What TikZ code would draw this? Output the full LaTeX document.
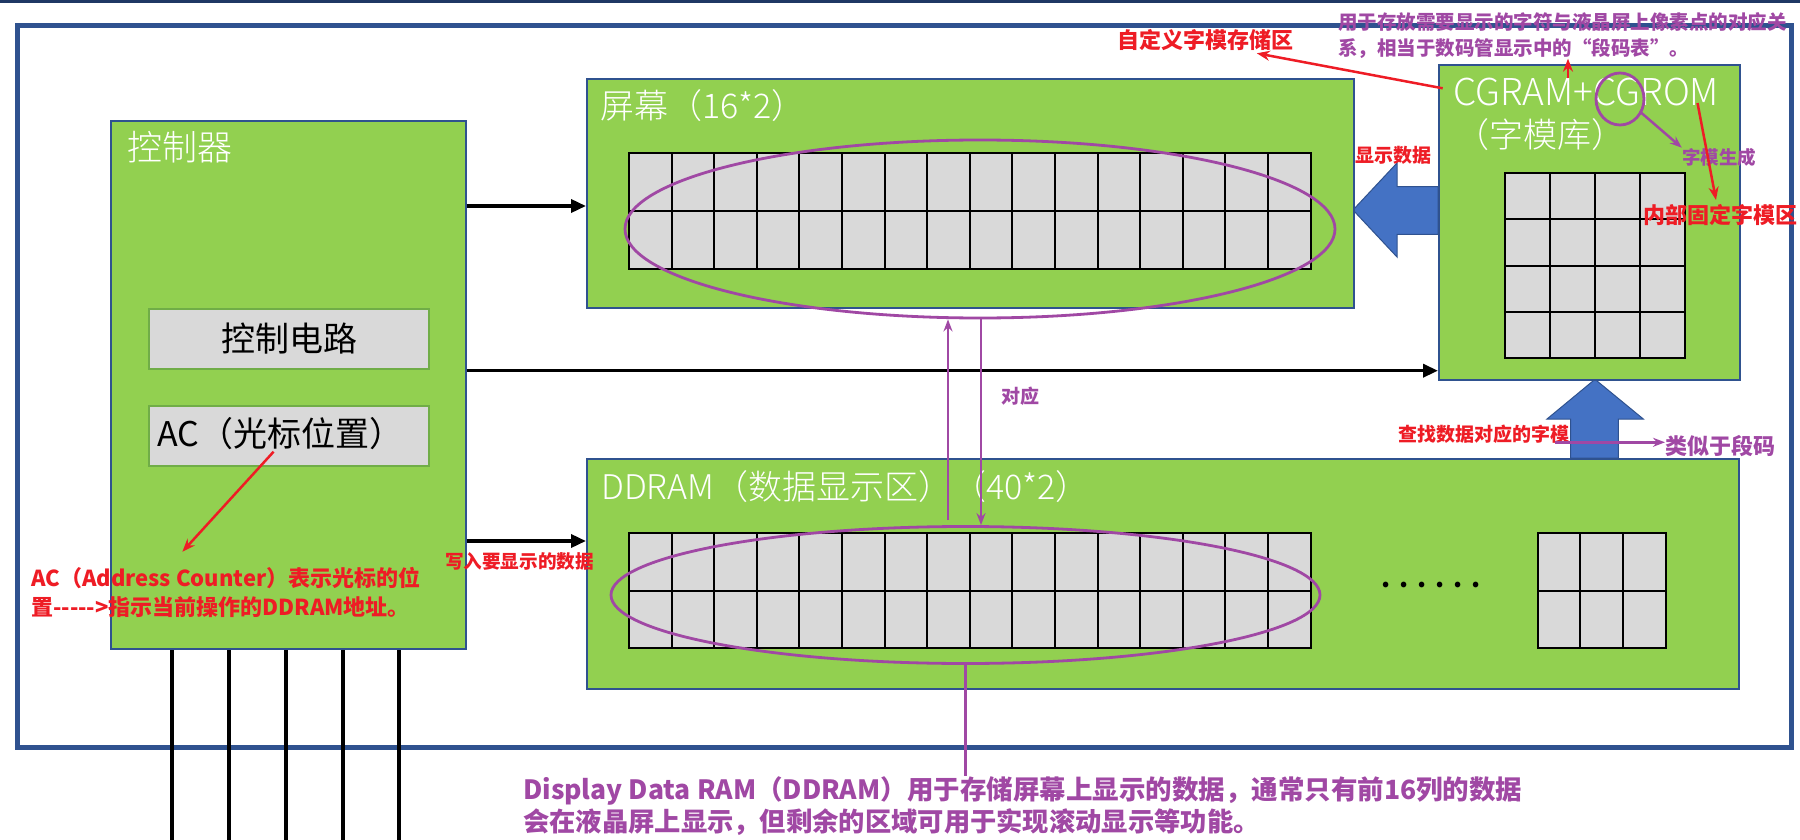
\documentclass[tikz,border=0pt]{standalone}
\usepackage{fontspec}
\newfontfamily\cjk{Noto Sans CJK SC}
\newfontfamily\cjklight{Noto Sans CJK SC Light}
\usetikzlibrary{shapes.geometric,arrows.meta}
\definecolor{frameblue}{RGB}{47,82,143}
\definecolor{boxgreen}{RGB}{146,208,80}
\definecolor{cellgray}{RGB}{217,217,217}
\definecolor{cellborder}{RGB}{112,173,71}
\definecolor{annred}{RGB}{238,28,37}
\definecolor{annpurple}{RGB}{160,72,164}
\definecolor{arrowblue}{RGB}{68,114,196}
\definecolor{topbar}{RGB}{31,56,100}
\begin{document}
\begin{tikzpicture}[x=1pt,y=-1pt,
  greenbox/.style={draw=frameblue,line width=1.6pt,fill=boxgreen,rectangle,inner sep=0pt,anchor=north west},
  graybox/.style={draw=cellborder,line width=2pt,fill=cellgray,rectangle,inner sep=0pt,anchor=north west,font=\cjk\fontsize{34}{40}\selectfont},
  whitetxt/.style={text=white,inner sep=0pt,anchor=west,font=\cjklight\fontsize{34}{40}\selectfont},
  blacktxt/.style={text=black,inner sep=0pt,anchor=west,font=\cjk\fontsize{34}{40}\selectfont},
  redtxt/.style={text=annred,inner sep=0pt,font=\cjk\bfseries\fontsize{22}{26}\selectfont},
  purpletxt/.style={text=annpurple,inner sep=0pt,font=\cjk\bfseries\fontsize{19.5}{24}\selectfont},
  gridline/.style={line width=2pt,black},
  blackarrow/.style={draw=black,line width=3.5pt,-{Triangle[length=15pt,width=13pt]}},
  redarrow/.style={draw=annred,line width=2.5pt,-{Stealth[length=13pt,width=10pt]}},
  purplearrow/.style={draw=annpurple,line width=2.5pt,-{Stealth[length=12pt,width=9pt]}},
  purpleline/.style={draw=annpurple,line width=2.5pt},
  oval/.style={draw=annpurple,line width=2.8pt,ellipse,inner sep=0pt},
  blockarrow/.style={fill=arrowblue,draw=frameblue,line width=1pt},
  busline/.style={draw=black,line width=4.7pt},
]
\useasboundingbox (0,0) rectangle (1800,840);
\fill[white] (0,0) rectangle (1800,840);
\fill[topbar] (0,0) rectangle (1800,3.5);

% outer frame
\node[draw=frameblue,line width=5pt,rectangle,inner sep=0pt,anchor=north west,
      minimum width=1774.5pt,minimum height=721.5pt] (frame) at (14.5,23.5) {};

% block arrows
\path[blockarrow] (1438,186.7) -- (1397,186.7) -- (1397,163) -- (1353,210) -- (1397,257) -- (1397,234.3) -- (1438,234.3) -- cycle;
\path[blockarrow] (1570.7,458) -- (1570.7,419) -- (1547,419) -- (1595,379.3) -- (1643.3,419) -- (1618.3,419) -- (1618.3,458) -- cycle;

% bus lines below controller
\foreach \bx in {172,229,286,343,399}
  \draw[busline] (\bx,646) -- (\bx,842);

% green boxes
\node[greenbox,minimum width=355pt,minimum height=528pt] (ctrl) at (110,120) {};
\node[greenbox,minimum width=767pt,minimum height=229pt] (scr) at (586,78) {};
\node[greenbox,minimum width=301pt,minimum height=315pt] (cg) at (1438,64) {};
\node[greenbox,minimum width=1152pt,minimum height=230pt] (dd) at (586,458) {};

% gray boxes in controller
\node[graybox,minimum width=280pt,minimum height=60pt] (circ) at (148,308) {控制电路};
\node[graybox,minimum width=280pt,minimum height=60pt] (acbox) at (148,405) {};
\node[blacktxt] (actext) at (157,434) {AC（光标位置）};

% box titles
\node[whitetxt,font=\cjklight\fontsize{35}{40}\selectfont] (ctrltitle) at (127,147) {控制器};
\node[whitetxt] (scrtitle) at (600,106) {屏幕（16*2）};
\node[whitetxt] (ddtitle) at (601,487) {DDRAM（数据显示区）（40*2）};
\node[whitetxt,font=\cjklight\fontsize{37}{40}\selectfont] (cgtxt) at (1453,92.5) {CGRAM+CGROM};
\node[whitetxt] (cglib) at (1455,135) {（字模库）};

% screen grid 16x2
\fill[cellgray] (629,153) rectangle (1310.6,269);
\foreach \i in {1,...,15} \draw[gridline] ({629+42.6*\i},153) -- ({629+42.6*\i},269);
\draw[gridline] (629,211) -- (1310.6,211);
\draw[gridline] (629,153) rectangle (1310.6,269);

% DDRAM grid 16x2
\fill[cellgray] (629,533) rectangle (1310.6,648);
\foreach \i in {1,...,15} \draw[gridline] ({629+42.6*\i},533) -- ({629+42.6*\i},648);
\draw[gridline] (629,590.5) -- (1310.6,590.5);
\draw[gridline] (629,533) rectangle (1310.6,648);

% DDRAM tail grid 3x2
\fill[cellgray] (1537.6,533) rectangle (1666,648);
\foreach \i in {1,2} \draw[gridline] ({1537.6+42.8*\i},533) -- ({1537.6+42.8*\i},648);
\draw[gridline] (1537.6,590.5) -- (1666,590.5);
\draw[gridline] (1537.6,533) rectangle (1666,648);

% CG grid 4x4
\fill[cellgray] (1505,173) rectangle (1685,358);
\foreach \i in {1,2,3} \draw[gridline] ({1505+45*\i},173) -- ({1505+45*\i},358);
\foreach \j in {1,2,3} \draw[gridline] (1505,{173+46.25*\j}) -- (1685,{173+46.25*\j});
\draw[gridline] (1505,173) rectangle (1685,358);

% dots
\node[inner sep=0pt,anchor=base west,font=\cjk\bfseries\fontsize{26}{30}\selectfont] (dots) at (1381,587)
  {.\kern9pt.\kern9pt.\kern9pt.\kern9pt.\kern9pt.};

% ellipses
\node[oval,minimum width=710pt,minimum height=178pt] (e1) at (980,229) {};
\node[oval,minimum width=709pt,minimum height=137pt] (e2) at (965.5,595) {};
\node[oval,minimum width=48pt,minimum height=52pt] (gcirc) at (1620,99) {};

% black arrows from controller
\coordinate (k1y) at (0,206);
\coordinate (k2y) at (0,370.7);
\coordinate (k3y) at (0,541);
\draw[blackarrow] (ctrl.east |- k1y) -- (scr.west |- k1y);
\draw[blackarrow] (ctrl.east |- k2y) -- (cg.west |- k2y);
\draw[blackarrow] (ctrl.east |- k3y) -- (dd.west |- k3y);

% correspondence arrows
\coordinate (upx) at (948,0);
\coordinate (dnx) at (981,0);
\draw[purplearrow] (upx |- 0,520) -- (upx |- e1.south);
\draw[purplearrow] (dnx |- e1.south) -- (dnx |- e2.north);

% labels
\node[purpletxt,font=\cjk\bfseries\fontsize{19}{24}\selectfont] (lblcorr) at (1020,396) {对应};
\node[redtxt,font=\cjk\bfseries\fontsize{19}{24}\selectfont] (lbldisp) at (1393,155) {显示数据};
\node[redtxt] (lblcustom) at (1205,40) {自定义字模存储区};
\node[purpletxt,anchor=west] (desc1) at (1338,22) {用于存放需要显示的字符与液晶屏上像素点的对应关};
\node[purpletxt,anchor=west] (desc2) at (1338,48.5) {系，相当于数码管显示中的“段码表”。};
\node[purpletxt,font=\cjk\bfseries\fontsize{18.5}{24}\selectfont] (lblgen) at (1719,157) {字模生成};
\node[redtxt] (lblfixed) at (1720,215) {内部固定字模区};
\node[redtxt,font=\cjk\bfseries\fontsize{19}{24}\selectfont] (lbllookup) at (1484,434) {查找数据对应的字模};
\node[purpletxt,anchor=west,font=\cjk\bfseries\fontsize{22}{26}\selectfont] (lblseg) at (1665,446) {类似于段码};
\node[redtxt,font=\cjk\bfseries\fontsize{18.6}{24}\selectfont] (lblwrite) at (519.5,561) {写入要显示的数据};
\node[redtxt,anchor=west] (acnote1) at (31,578) {AC（Address Counter）表示光标的位};
\node[redtxt,anchor=west] (acnote2) at (31,607) {置----->指示当前操作的DDRAM地址。};
\node[purpletxt,anchor=west,font=\cjk\bfseries\fontsize{26.5}{30}\selectfont] (note1) at (523,791) {Display Data RAM（DDRAM）用于存储屏幕上显示的数据，通常只有前16列的数据};
\node[purpletxt,anchor=west,font=\cjk\bfseries\fontsize{26.3}{30}\selectfont] (note2) at (523,822) {会在液晶屏上显示，但剩余的区域可用于实现滚动显示等功能。};

% annotation arrows
\coordinate (r1a) at (1442.7,88.3);
\coordinate (r1b) at (1256.8,53.3);
\draw[redarrow] (r1a) -- (r1b);
\coordinate (r2a) at (1568,78.3);
\draw[redarrow] (r2a) -- (r2a |- desc2.south);
\coordinate (r3a) at (1697.5,103);
\draw[redarrow] (r3a) -- (1716,200);
\coordinate (r4a) at (273.6,451.7);
\coordinate (r4b) at (182.4,551.7);
\draw[redarrow] (r4a) -- (r4b);
\coordinate (p1a) at (1640,111.7);
\draw[purplearrow] (p1a) -- (lblgen.north west);
\coordinate (p2a) at (1555,442.3);
\draw[purplearrow] (p2a) -- (lblseg.west |- p2a);
\draw[purpleline] (e2.south) -- (e2.south |- note1.north);
\end{tikzpicture}
\end{document}
